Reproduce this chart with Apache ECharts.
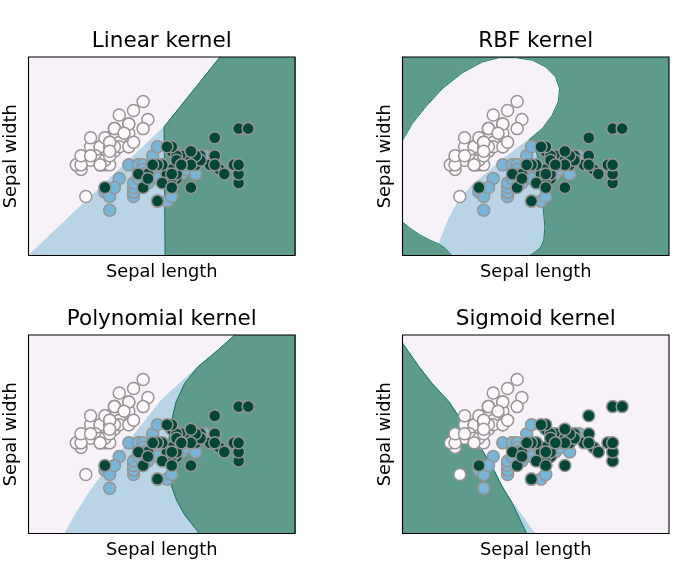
<!DOCTYPE html>
<html><head><meta charset="utf-8">
<script src="https://cdn.jsdelivr.net/npm/echarts@6/dist/echarts.min.js"></script>
<style>html,body{margin:0;padding:0;background:#fff}#c{width:686px;height:573px}</style>
</head><body><div id="c"></div>
<script>
// ---------- Iris data: [sepal length, sepal width] ----------
const setosa = [[5.1,3.5],[4.9,3.0],[4.7,3.2],[4.6,3.1],[5.0,3.6],[5.4,3.9],[4.6,3.4],[5.0,3.4],[4.4,2.9],[4.9,3.1],
[5.4,3.7],[4.8,3.4],[4.8,3.0],[4.3,3.0],[5.8,4.0],[5.7,4.4],[5.4,3.9],[5.1,3.5],[5.7,3.8],[5.1,3.8],
[5.4,3.4],[5.1,3.7],[4.6,3.6],[5.1,3.3],[4.8,3.4],[5.0,3.0],[5.0,3.4],[5.2,3.5],[5.2,3.4],[4.7,3.2],
[4.8,3.1],[5.4,3.4],[5.2,4.1],[5.5,4.2],[4.9,3.1],[5.0,3.2],[5.5,3.5],[4.9,3.6],[4.4,3.0],[5.1,3.4],
[5.0,3.5],[4.5,2.3],[4.4,3.2],[5.0,3.5],[5.1,3.8],[4.8,3.0],[5.1,3.8],[4.6,3.2],[5.3,3.7],[5.0,3.3]];
const versicolor = [[7.0,3.2],[6.4,3.2],[6.9,3.1],[5.5,2.3],[6.5,2.8],[5.7,2.8],[6.3,3.3],[4.9,2.4],[6.6,2.9],[5.2,2.7],
[5.0,2.0],[5.9,3.0],[6.0,2.2],[6.1,2.9],[5.6,2.9],[6.7,3.1],[5.6,3.0],[5.8,2.7],[6.2,2.2],[5.6,2.5],
[5.9,3.2],[6.1,2.8],[6.3,2.5],[6.1,2.8],[6.4,2.9],[6.6,3.0],[6.8,2.8],[6.7,3.0],[6.0,2.9],[5.7,2.6],
[5.5,2.4],[5.5,2.4],[5.8,2.7],[6.0,2.7],[5.4,3.0],[6.0,3.4],[6.7,3.1],[6.3,2.3],[5.6,3.0],[5.5,2.5],
[5.5,2.6],[6.1,3.0],[5.8,2.6],[5.0,2.3],[5.6,2.7],[5.7,3.0],[5.7,2.9],[6.2,2.9],[5.1,2.5],[5.7,2.8]];
const virginica = [[6.3,3.3],[5.8,2.7],[7.1,3.0],[6.3,2.9],[6.5,3.0],[7.6,3.0],[4.9,2.5],[7.3,2.9],[6.7,2.5],[7.2,3.6],
[6.5,3.2],[6.4,2.7],[6.8,3.0],[5.7,2.5],[5.8,2.8],[6.4,3.2],[6.5,3.0],[7.7,3.8],[7.7,2.6],[6.0,2.2],
[6.9,3.2],[5.6,2.8],[7.7,2.8],[6.3,2.7],[6.7,3.3],[7.2,3.2],[6.2,2.8],[6.1,3.0],[6.4,2.8],[7.2,3.0],
[7.4,2.8],[7.9,3.8],[6.4,2.8],[6.3,2.8],[6.1,2.6],[7.7,3.0],[6.3,3.4],[6.4,3.1],[6.0,3.0],[6.9,3.1],
[6.7,3.1],[6.9,3.1],[5.8,2.7],[6.8,3.2],[6.7,3.3],[6.7,3.0],[6.3,2.5],[6.5,3.0],[6.2,3.4],[5.9,3.0]];

const panelTitles = ['Linear kernel', 'RBF kernel', 'Polynomial kernel', 'Sigmoid kernel'];
const xLabel = 'Sepal length';
const yLabel = 'Sepal width';
const xRange = [3.3, 8.88];
const yRange = [1.0, 5.38];

// ---------- Decision-region boundaries (data coords) ----------
// Linear
const linWB = [[2.8,0.5],[6.141,3.841]];
const linBG = [[6.141,3.841],[6.165,0.5]];
const linWG = [[6.141,3.841],[7.31,5.38],[7.55,5.70]];
// RBF
const rbfWG1 = [[3.1,3.18],[3.30,3.54],[3.505,3.91],[3.785,4.28],[4.133,4.68],[4.55,5.03],[4.97,5.27],[5.32,5.365],[5.67,5.365],[6.02,5.31],[6.30,5.16],[6.505,4.94],[6.59,4.68],[6.56,4.39],[6.43,4.09],[6.225,3.80],[5.95,3.56]];
const rbfWB = [[5.95,3.56],[5.597,3.28],[5.32,3.06],[5.04,2.80],[4.76,2.55],[4.48,2.22],[4.27,1.81],[4.13,1.44],[4.07,1.25]];
const rbfWG2 = [[4.07,1.25],[3.875,1.34],[3.67,1.45],[3.46,1.60],[3.30,1.74],[3.1,1.92]];
const rbfBGright = [[5.95,3.56],[6.05,3.40],[6.11,3.25],[6.14,3.11],[6.18,2.74],[6.21,2.37],[6.25,2.0],[6.28,1.63],[6.26,1.34],[6.18,1.16],[6.04,1.05],[5.97,1.0],[5.9,0.9]];
const rbfBGleft = [[4.37,0.9],[4.33,1.0],[4.29,1.05],[4.19,1.16],[4.07,1.25]];
// Polynomial
const polyWB = [[3.95,0.8],[4.06,1.0],[4.3,1.45],[4.6,1.95],[4.95,2.45],[5.3,2.9],[5.6,3.3],[5.84,3.62],[6.09,3.95],[6.47,4.32],[6.84,4.67]];
const polyWG = [[7.75,5.6],[7.62,5.38],[7.27,5.05],[6.84,4.67]];
const polyBG = [[6.84,4.67],[6.57,4.31],[6.39,3.90],[6.30,3.50],[6.24,3.06],[6.225,2.55],[6.275,2.11],[6.40,1.74],[6.57,1.41],[6.85,1.04],[6.9,0.8]];
// Sigmoid
const sigG = [[3.1,5.5],[3.30,5.20],[3.645,4.68],[3.92,4.31],[4.27,3.91],[4.48,3.58],[4.76,3.135],[4.97,2.84],[5.18,2.47],[5.39,2.03],[5.60,1.665],[5.88,1.04],[5.91,0.9]];
const sigBW = [[5.53,1.79],[6.14,0.9],[5.91,0.9]];

const rev = a => a.slice().reverse();
const panels = [
  { base: 0,
    regions: [{cls:1, pts: [...linWB, ...linBG]},
              {cls:2, pts: [...rev(linWG), ...linBG.slice(1), [9.2,0.5],[9.2,5.7]]}],
    edges: [linWG, linBG] },
  { base: 2,
    regions: [{cls:0, pts: [...rbfWG1, ...rbfWB.slice(1), ...rbfWG2.slice(1)]},
              {cls:1, pts: [...rbfBGright, ...rbfBGleft, ...rev(rbfWB).slice(1)]}],
    edges: [rbfWG1, rbfWG2, rbfBGright, rbfBGleft] },
  { base: 0,
    regions: [{cls:1, pts: [...polyWB, ...polyBG.slice(1)]},
              {cls:2, pts: [...polyWG, ...polyBG.slice(1), [9.2,0.8],[9.2,5.7]]}],
    edges: [polyWG, polyBG] },
  { base: 0,
    regions: [{cls:1, pts: sigBW},
              {cls:2, pts: [...sigG, [3.1,0.9]]}],
    edges: [sigG] }
];

const regionColors = ['#f7f2f8', '#b9d4e6', '#5f9b8c'];
const pointColors = ['#fff7fb', '#78b5d8', '#014636'];
const edgeColor = '#17766b';
const FONT = 'DejaVu Sans';

const gridLefts = [28.5, 402.5, 28.5, 402.5];
const gridTops = [57, 57, 335, 335];
const GW = 266.5, GH = 198.5;

const grids = [], xAxes = [], yAxes = [], titles = [], series = [];
panels.forEach((p, i) => {
  grids.push({ left: gridLefts[i], top: gridTops[i], width: GW, height: GH, show: true,
    borderColor: '#000', borderWidth: 1.1, backgroundColor: 'rgba(0,0,0,0)', z: 10 });
  xAxes.push({ gridIndex: i, type: 'value', min: xRange[0], max: xRange[1],
    axisLine: {show: false}, axisTick: {show: false}, axisLabel: {show: false}, splitLine: {show: false},
    name: xLabel, nameLocation: 'middle', nameGap: 7.5,
    nameTextStyle: { fontFamily: FONT, fontSize: 17.8, color: '#000' } });
  yAxes.push({ gridIndex: i, type: 'value', min: yRange[0], max: yRange[1],
    axisLine: {show: false}, axisTick: {show: false}, axisLabel: {show: false}, splitLine: {show: false},
    name: yLabel, nameLocation: 'middle', nameGap: 8, nameRotate: 90,
    nameTextStyle: { fontFamily: FONT, fontSize: 17.8, color: '#000' } });
  titles.push({ text: panelTitles[i], left: gridLefts[i] + GW / 2, top: gridTops[i] - 27, textAlign: 'center',
    padding: 0, textStyle: { fontFamily: FONT, fontSize: 21.5, fontWeight: 'normal', color: '#000' } });

  // base region
  series.push({ type: 'custom', xAxisIndex: i, yAxisIndex: i, silent: true, z: 1,
    data: [[xRange[0], yRange[0]]],
    renderItem: (params) => {
      const cs = params.coordSys;
      return { type: 'rect', shape: { x: cs.x, y: cs.y, width: cs.width, height: cs.height },
        style: { fill: regionColors[p.base] } };
    } });
  // other regions
  p.regions.forEach(r => {
    series.push({ type: 'custom', xAxisIndex: i, yAxisIndex: i, silent: true, z: 2, clip: true,
      data: r.pts,
      renderItem: (params, api) => {
        if (params.dataIndex !== 0) return { type: 'group', children: [] };
        return { type: 'polygon', shape: { points: r.pts.map(q => api.coord(q)) },
          style: { fill: regionColors[r.cls], stroke: regionColors[r.cls], lineWidth: 1 } };
      } });
  });
  // boundary edges
  p.edges.forEach(e => {
    series.push({ type: 'line', xAxisIndex: i, yAxisIndex: i, data: e, silent: true, z: 3,
      symbol: 'none', showSymbol: false, clip: true,
      lineStyle: { color: edgeColor, width: 1 } });
  });
  // points
  [setosa, versicolor, virginica].forEach((d, k) => {
    series.push({ type: 'scatter', xAxisIndex: i, yAxisIndex: i, data: d, z: 5, silent: true,
      symbol: 'circle', symbolSize: 12,
      itemStyle: { color: pointColors[k], borderColor: '#959595', borderWidth: 1.5, opacity: 1 } });
  });
});

const chart = echarts.init(document.getElementById('c'), null, { renderer: 'canvas' });
chart.setOption({ animation: false, backgroundColor: '#fff', title: titles, grid: grids,
  xAxis: xAxes, yAxis: yAxes, series: series });
</script></body></html>
